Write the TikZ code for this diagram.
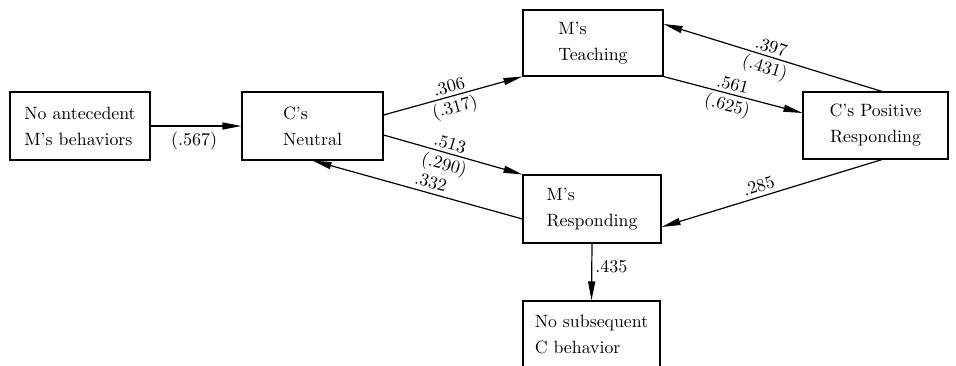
\documentclass[tikz,border=0pt]{standalone}
\usepackage{fontspec}
\setmainfont{lmroman10-regular.otf}
\usetikzlibrary{arrows.meta}
\tikzset{
  box/.style={draw, line width=1.1pt, minimum width=#1, inner sep=0pt, align=left,
    font=\fontsize{17.8}{26}\selectfont},
  conn/.style={line width=1.2pt, -{Triangle[length=19pt,width=7pt]}},
  lab/.style={font=\fontsize{18}{20}\selectfont, inner sep=1pt},
}
\begin{document}
\begin{tikzpicture}[x=1pt,y=-1pt]
\useasboundingbox (0,0) rectangle (956,365);
\node[box=140pt, minimum height=68pt] (ante) at (80,126) {No antecedent\\M's behaviors};
\node[box=141pt, minimum height=68pt] (cn) at (312.5,126) {C's\\Neutral};
\node[box=140pt, minimum height=66pt] (teach) at (593,43) {M's\\Teaching};
\node[box=145pt, minimum height=67pt, align=center] (cp) at (875.5,125.5) {C's Positive\\Responding};
\node[box=138pt, minimum height=68pt] (resp) at (592,209) {M's\\Responding};
\node[box=137pt, minimum height=68pt] (nosub) at (591.5,335) {No subsequent\\C behavior};

\draw[conn] (ante.east) -- (cn.west) node[lab, pos=.48, below=4pt] {(.567)};
\draw[conn] ([yshift=11pt]cn.east) -- (teach.south west)
  node[lab, pos=.49, sloped, above=2pt] {.306}
  node[lab, pos=.49, sloped, below=2pt] {(.317)};
\draw[conn] (teach.south east) -- ([yshift=12.5pt]cp.west)
  node[lab, pos=.48, sloped, above=2pt] {.561}
  node[lab, pos=.48, sloped, below=2pt] {(.625)};
\draw[conn] ([xshift=6.5pt]cp.north) -- ([yshift=19pt]teach.east)
  node[lab, pos=.52, sloped, above=2pt] {.397}
  node[lab, pos=.52, sloped, below=2pt] {(.431)};
\draw[conn] ([xshift=6.5pt]cp.south) -- ([yshift=-18pt]resp.east)
  node[lab, pos=.545, sloped, above=3pt] {.285};
\draw[conn] ([yshift=-9pt]cn.east) -- (resp.north west)
  node[lab, pos=.46, sloped, above=2pt] {.513}
  node[lab, pos=.46, sloped, below=2pt] {(.290)};
\draw[conn] ([yshift=-10pt]resp.west) -- (cn.south)
  node[lab, pos=.45, sloped, above=3pt] {.332};
\draw[conn] (resp.south) -- (nosub.north)
  node[lab, pos=.41, right=2pt] {.435};
\end{tikzpicture}
\end{document}
